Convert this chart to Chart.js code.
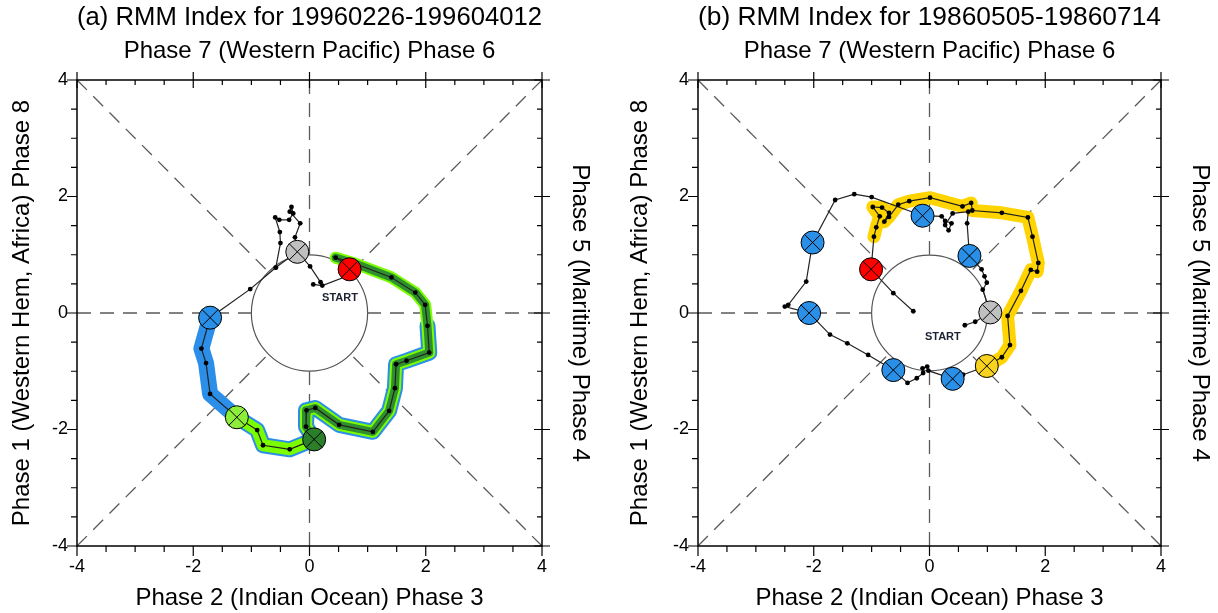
<!DOCTYPE html>
<html lang="en">
<head>
<meta charset="UTF-8" />
<title>RMM Index phase diagrams</title>
<script src="https://cdn.jsdelivr.net/npm/chart.js"></script>
<style>
  body { margin: 0; background: #fff; }
  .panel { position: absolute; top: 0; width: 609px; height: 613px; }
  #panelA { left: 0; }
  #panelB { left: 609px; }
</style>
</head>
<body>
<div class="panel" id="panelA"><canvas id="chartA"></canvas></div>
<div class="panel" id="panelB"><canvas id="chartB"></canvas></div>
<script>
// axis text, shared by both panels
const topLabel = 'Phase 7 (Western Pacific) Phase 6';
const bottomLabel = 'Phase 2 (Indian Ocean) Phase 3';
const leftLabel = 'Phase 1 (Western Hem, Africa) Phase 8';
const rightLabel = 'Phase 5 (Maritime) Phase 4';
const axisRange = [-4, 4];

// panel (a)
const titleA = '(a) RMM Index for 19960226-199604012';
const trackA = [
  [0.065, 0.49], [0.22, 0.47], [0.66, 0.64], [0.72, 0.79], [0.45, 0.95],
  [0.78, 0.85], [1.41, 0.61], [1.82, 0.35], [1.99, 0.14], [2.03, -0.22],
  [2.06, -0.68], [1.67, -0.82], [1.49, -0.88], [1.47, -1.29], [1.37, -1.68],
  [1.09, -2.04], [0.51, -1.92], [0.10, -1.63], [-0.05, -1.67], [-0.06, -1.95],
  [0.08, -2.17], [-0.34, -2.34], [-0.80, -2.27], [-0.90, -2.01], [-1.25, -1.79],
  [-1.71, -1.39], [-1.78, -0.86], [-1.86, -0.61], [-1.71, -0.08], [-1.02, 0.41],
  [-0.58, 0.78], [-0.50, 1.20], [-0.51, 1.39], [-0.59, 1.64], [-0.52, 1.60],
  [-0.35, 1.60], [-0.28, 1.71], [-0.31, 1.82], [-0.34, 1.74], [-0.16, 1.54],
  [-0.25, 1.30], [-0.21, 1.05], [0.01, 0.80], [0.19, 0.53]
];
const linksA = [[[-0.58, 0.78], [-0.21, 1.05]]];
const bandRangesA = [[9, 28], [4, 24], [4, 20]];
const marksA = [[0.69, 0.75], [-0.21, 1.05], [-1.71, -0.08], [-1.25, -1.79], [0.08, -2.17]];
const startLabelA = [0.525, 0.25];

// panel (b)
const titleB = '(b) RMM Index for 19860505-19860714';
const trackB = [
  [-0.28, 0.03], [-0.625, 0.34], [-1.01, 0.75], [-0.96, 1.31], [-0.92, 1.47],
  [-0.86, 1.66], [-0.98, 1.82], [-0.82, 1.81], [-0.70, 1.72], [-0.78, 1.57],
  [-0.70, 1.65], [-0.54, 1.86], [-0.35, 1.92], [0.01, 1.98], [0.57, 1.83],
  [0.72, 1.89], [0.74, 1.76], [1.25, 1.72], [1.70, 1.64], [1.78, 1.31],
  [1.88, 0.86], [1.86, 0.71], [1.75, 0.74], [1.58, 0.38], [1.35, -0.05],
  [1.39, -0.55], [1.25, -0.76], [0.99, -0.91], [0.58, -1.06], [0.40, -1.13],
  [-0.02, -0.99], [-0.04, -0.92], [-0.12, -0.95], [-0.11, -1.03], [-0.22, -1.12],
  [-0.38, -1.20], [-0.625, -0.98], [-1.06, -0.72], [-1.42, -0.52], [-1.72, -0.37],
  [-2.08, 0.00], [-2.50, 0.11], [-2.44, 0.14], [-2.13, 0.54], [-2.02, 1.21],
  [-1.63, 1.94], [-1.30, 2.04], [-1.00, 1.99], [-0.12, 1.67], [0.21, 1.66],
  [0.27, 1.58], [0.38, 1.54], [0.33, 1.42], [0.27, 1.51], [0.40, 1.71],
  [0.67, 1.74], [0.65, 1.54], [0.69, 0.98], [0.90, 0.75], [0.95, 0.63],
  [0.99, 0.52], [0.92, 0.40], [1.05, 0.01], [0.79, -0.15], [0.61, -0.21]
];
const linksB = [];
const bandRangesB = [[3, 27]];
const marksB = [
  [-1.01, 0.75], [-2.02, 1.21], [-2.08, 0.00], [-0.625, -0.98], [0.40, -1.13],
  [0.99, -0.91], [1.05, 0.01], [0.69, 0.98], [-0.12, 1.67]
];
const startLabelB = [0.23, -0.42];

// colours / widths
const RED = '#ff0000', GREY = '#c0c0c0', BLUE = '#2a8fe6', LGREEN = '#8ced3a', DGREEN = '#2b7f2b', GOLD = '#f7d21e';
const markColorsA = [RED, GREY, BLUE, LGREEN, DGREEN];
const markColorsB = [RED, BLUE, BLUE, BLUE, BLUE, GOLD, GREY, BLUE, BLUE];
const bandStylesA = [['#2b8ee8', 16], ['#7cfc00', 12], ['#2f8f2f', 8]];
const bandStylesB = [['#ffd400', 13]];

const FONT = "'Liberation Sans', Arial, Helvetica, sans-serif";
Chart.defaults.font.family = FONT;
Chart.defaults.color = '#000';

const pt = p => ({ x: p[0], y: p[1] });

// dashed phase boundaries: from the frame to the unit circle
function spokes() {
  const ends = [[-4, -4], [4, 4], [-4, 4], [4, -4], [-4, 0], [4, 0], [0, -4], [0, 4]];
  const out = [];
  ends.forEach(e => {
    const n = Math.hypot(e[0], e[1]);
    out.push({ x: e[0], y: e[1] }, { x: e[0] / n, y: e[1] / n }, { x: 0, y: null });
  });
  return out;
}

const phasePlot = {
  id: 'phasePlot',
  beforeDatasetsDraw(chart) {
    const { ctx, scales: { x, y } } = chart;
    const cx = x.getPixelForValue(0), cy = y.getPixelForValue(0);
    const r = x.getPixelForValue(1) - cx;
    ctx.save();
    ctx.strokeStyle = '#555';
    ctx.lineWidth = 1.2;
    ctx.beginPath();
    ctx.arc(cx, cy, r, 0, Math.PI * 2);
    ctx.stroke();
    ctx.restore();
  },
  afterDatasetsDraw(chart, args, opts) {
    const { ctx, scales: { x, y } } = chart;
    ctx.save();
    ctx.font = 'bold 11px ' + FONT;
    ctx.fillStyle = '#1c2233';
    ctx.textAlign = 'center';
    ctx.textBaseline = 'middle';
    ctx.fillText('START', x.getPixelForValue(opts.start[0]), y.getPixelForValue(opts.start[1]));
    ctx.restore();
  },
  afterDraw(chart) {
    const { ctx, chartArea: a, scales: { x, y } } = chart;
    ctx.save();
    ctx.strokeStyle = '#000';
    ctx.lineWidth = 1.5;
    ctx.strokeRect(a.left, a.top, a.right - a.left, a.bottom - a.top);
    ctx.lineWidth = 1.2;
    ctx.beginPath();
    for (let v = axisRange[0]; v <= axisRange[1]; v += 0.5) {
      const major = v % 2 === 0;
      const px = x.getPixelForValue(v), py = y.getPixelForValue(v);
      const out = major ? 10 : 6;
      // bottom, top
      ctx.moveTo(px, a.bottom); ctx.lineTo(px, a.bottom + out);
      ctx.moveTo(px, a.top + (major ? 8 : 5)); ctx.lineTo(px, a.top - (major ? 8 : 0));
      // left, right
      ctx.moveTo(a.left, py); ctx.lineTo(a.left - out, py);
      ctx.moveTo(a.right - (major ? 8 : 5), py); ctx.lineTo(a.right + (major ? 8 : 0), py);
    }
    ctx.stroke();
    ctx.restore();
  }
};

function buildPanel(canvasId, p) {
  const track = p.track.map(pt);
  const datasets = [];

  datasets.push({
    data: spokes(), showLine: true, pointRadius: 0, borderColor: '#5a5a5a',
    borderWidth: 1.3, borderDash: [14, 9], spanGaps: false, order: 20
  });

  p.bands.forEach((r, i) => {
    datasets.push({
      data: track.slice(r[0], r[1] + 1), showLine: true, pointRadius: 0,
      borderColor: p.bandStyles[i][0], borderWidth: p.bandStyles[i][1],
      borderJoinStyle: 'round', borderCapStyle: 'round', order: 15 - i
    });
  });

  const links = [];
  p.links.forEach(seg => { seg.forEach(q => links.push(pt(q))); links.push({ x: 0, y: null }); });
  if (links.length) {
    datasets.push({
      data: links, showLine: true, pointRadius: 2.4, pointBackgroundColor: '#000',
      pointBorderWidth: 0, borderColor: '#222', borderWidth: 1.2, spanGaps: false, order: 6
    });
  }

  datasets.push({
    data: track, showLine: true, pointRadius: 2.4, pointBackgroundColor: '#000',
    pointBorderWidth: 0, borderColor: '#222', borderWidth: 1.2, order: 5
  });

  datasets.push({
    data: p.marks.map(pt), showLine: false, pointRadius: 11.5,
    pointBackgroundColor: p.markColors, pointBorderColor: '#000', pointBorderWidth: 1, order: 4
  });
  datasets.push({
    data: p.marks.map(pt), showLine: false, pointStyle: 'crossRot', pointRadius: 11.5,
    pointBorderColor: '#000', pointBorderWidth: 1, order: 3
  });

  const titleFont = { size: 24 };
  const lh = titleFont.size * 1.2 / 2;

  return new Chart(document.getElementById(canvasId), {
    type: 'scatter',
    data: { datasets },
    plugins: [phasePlot],
    options: {
      responsive: true,
      maintainAspectRatio: false,
      animation: false,
      events: [],
      layout: { padding: 0 },
      plugins: {
        legend: { display: false },
        tooltip: { enabled: false },
        title: {
          display: true, text: p.title, fullSize: false,
          font: { size: 26.5, weight: 'normal' }, color: '#000',
          padding: { top: 2, bottom: 0 }
        },
        phasePlot: { start: p.startLabel }
      },
      scales: {
        x: {
          type: 'linear', position: 'bottom', min: axisRange[0], max: axisRange[1],
          ticks: { stepSize: 2, font: { size: 18 }, color: '#000', padding: 10 },
          grid: { display: false, drawTicks: false }, border: { display: false },
          title: { display: true, text: bottomLabel, font: titleFont, color: '#000', padding: { top: 0, bottom: 15 - lh } },
          afterFit: s => { s.height = 67; }
        },
        xTop: {
          type: 'linear', position: 'top', min: axisRange[0], max: axisRange[1],
          ticks: { display: false }, grid: { display: false, drawTicks: false }, border: { display: false },
          title: { display: true, text: topLabel, font: titleFont, color: '#000', padding: { top: 18 - lh, bottom: 0 } },
          afterFit: s => { s.height = 80 - 33.8; }
        },
        y: {
          type: 'linear', position: 'left', min: axisRange[0], max: axisRange[1],
          ticks: { stepSize: 2, font: { size: 18 }, color: '#000', padding: 9 },
          grid: { display: false, drawTicks: false }, border: { display: false },
          title: { display: true, text: leftLabel, font: titleFont, color: '#000', padding: { top: p.leftTitleAt - lh, bottom: 0 } },
          afterFit: s => { s.width = p.leftWidth; }
        },
        yRight: {
          type: 'linear', position: 'right', min: axisRange[0], max: axisRange[1],
          ticks: { display: false }, grid: { display: false, drawTicks: false }, border: { display: false },
          title: { display: true, text: rightLabel, font: titleFont, color: '#000', padding: { top: p.rightTitleAt - lh, bottom: 0 } },
          afterFit: s => { s.width = p.rightWidth; }
        }
      }
    }
  });
}

buildPanel('chartA', {
  title: titleA, track: trackA, links: linksA, bands: bandRangesA, bandStyles: bandStylesA,
  marks: marksA, markColors: markColorsA, startLabel: startLabelA,
  leftWidth: 77, rightWidth: 67, leftTitleAt: 22, rightTitleAt: 29
});
buildPanel('chartB', {
  title: titleB, track: trackB, links: linksB, bands: bandRangesB, bandStyles: bandStylesB,
  marks: marksB, markColors: markColorsB, startLabel: startLabelB,
  leftWidth: 89, rightWidth: 57, leftTitleAt: 31, rightTitleAt: 18
});
</script>
</body>
</html>
